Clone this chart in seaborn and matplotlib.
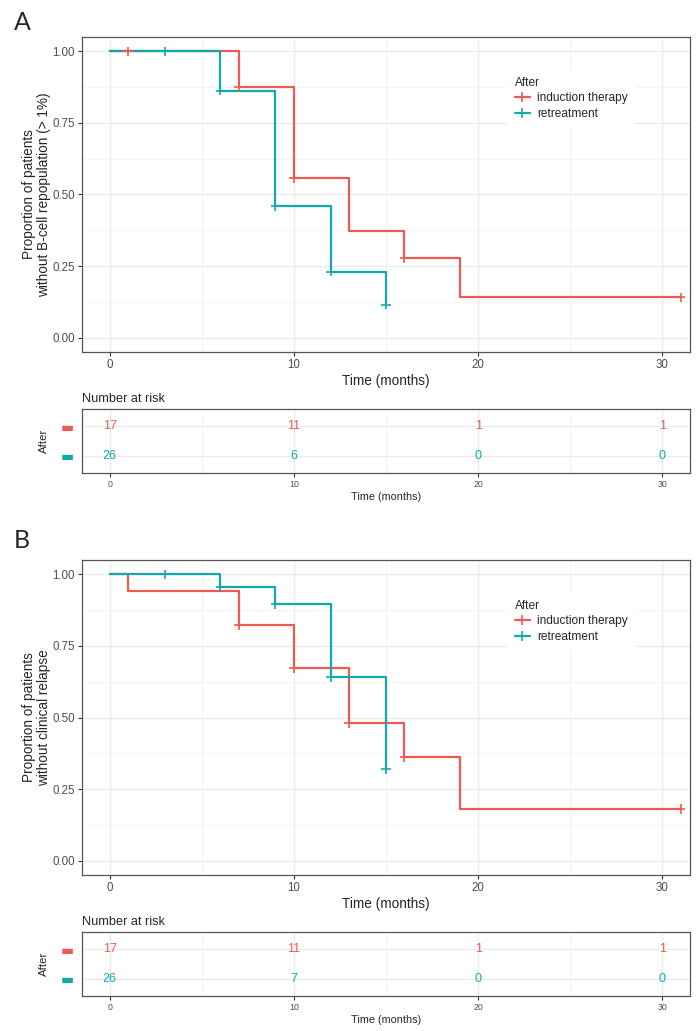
import numpy as np
import pandas as pd
import matplotlib.pyplot as plt
import seaborn as sns
from matplotlib.lines import Line2D
from matplotlib.ticker import MultipleLocator

# Groups and colours
groups = ['induction therapy', 'retreatment']
palette = {'induction therapy': '#EC5A50', 'retreatment': '#13A8AC'}

# Panel A: B-cell repopulation (> 1%)
a_ind_time = [0, 7, 10, 13, 16, 19, 31]
a_ind_surv = [1.0, 0.875, 0.557, 0.372, 0.278, 0.141, 0.141]
a_ind_cens_time = [1, 7, 10, 16, 31]
a_ind_cens_surv = [1.0, 0.875, 0.557, 0.278, 0.141]
a_ret_time = [0, 6, 9, 12, 15]
a_ret_surv = [1.0, 0.863, 0.460, 0.230, 0.115]
a_ret_cens_time = [3, 6, 9, 12, 15]
a_ret_cens_surv = [1.0, 0.863, 0.460, 0.230, 0.115]

# Panel B: clinical relapse
b_ind_time = [0, 1, 7, 10, 13, 16, 19, 31]
b_ind_surv = [1.0, 0.941, 0.823, 0.673, 0.481, 0.361, 0.181, 0.181]
b_ind_cens_time = [7, 10, 13, 16, 31]
b_ind_cens_surv = [0.823, 0.673, 0.481, 0.361, 0.181]
b_ret_time = [0, 6, 9, 12, 15]
b_ret_surv = [1.0, 0.955, 0.895, 0.640, 0.320]
b_ret_cens_time = [3, 6, 9, 12, 15]
b_ret_cens_surv = [1.0, 0.955, 0.895, 0.640, 0.320]

# Number at risk tables
risk_times = [0, 10, 20, 30]
a_risk_ind = [17, 11, 1, 1]
a_risk_ret = [26, 6, 0, 0]
b_risk_ind = [17, 11, 1, 1]
b_risk_ret = [26, 7, 0, 0]

a_ylabel = 'Proportion of patients\nwithout B-cell repopulation (> 1%)'
b_ylabel = 'Proportion of patients\nwithout clinical relapse'

sns.set_style('white')
plt.rcParams['font.family'] = ['Liberation Sans', 'DejaVu Sans']

W, H = 699, 1031
fig = plt.figure(figsize=(W / 100, H / 100), dpi=100)

XLIM = (-1.5, 31.5)
TICK_COL = '#4D4D4D'
BORDER = '#555555'


def px_axes(left, top, right, bottom):
    return fig.add_axes([left / W, 1 - bottom / H, (right - left) / W, (bottom - top) / H])


def style_frame(ax):
    for s in ax.spines.values():
        s.set_visible(True)
        s.set_color(BORDER)
        s.set_linewidth(0.9)


def curve_frame(times, surv, group):
    return pd.DataFrame({'time': times, 'surv': surv, 'group': group})


def draw_main(ax, ind, ret, ylabel):
    curves = pd.concat([curve_frame(ind[0], ind[1], groups[0]),
                        curve_frame(ret[0], ret[1], groups[1])])
    cens = pd.concat([curve_frame(ind[2], ind[3], groups[0]),
                      curve_frame(ret[2], ret[3], groups[1])])

    ax.set_xlim(*XLIM)
    ax.set_ylim(-0.05, 1.05)
    ax.xaxis.set_major_locator(MultipleLocator(10))
    ax.xaxis.set_minor_locator(MultipleLocator(5))
    ax.yaxis.set_major_locator(MultipleLocator(0.25))
    ax.yaxis.set_minor_locator(MultipleLocator(0.125))
    ax.grid(which='major', color='#EBEBEB', linewidth=0.9)
    ax.grid(which='minor', color='#F3F3F3', linewidth=0.6)
    ax.set_axisbelow(True)

    sns.lineplot(data=curves, x='time', y='surv', hue='group', palette=palette,
                 hue_order=groups, drawstyle='steps-post', estimator=None,
                 linewidth=1.6, legend=False, ax=ax)
    sns.scatterplot(data=cens, x='time', y='surv', hue='group', palette=palette,
                    hue_order=groups, marker='+', s=45, linewidth=1.2,
                    legend=False, ax=ax, zorder=4)

    ax.set_yticks([0, 0.25, 0.5, 0.75, 1.0])
    ax.set_yticklabels(['0.00', '0.25', '0.50', '0.75', '1.00'])
    ax.tick_params(axis='both', which='major', length=3, width=0.8, color='#333333',
                   labelsize=8.3, labelcolor=TICK_COL, pad=2, bottom=True, left=True)
    ax.tick_params(which='minor', length=0)
    ax.set_xlabel('Time (months)', fontsize=9.8, labelpad=2)
    ax.set_ylabel(ylabel, fontsize=9.8, labelpad=1, linespacing=1.1)
    style_frame(ax)

    handles = [Line2D([0], [0], color=palette[g], lw=1.6, marker='+', markersize=7,
                      markeredgewidth=1.2) for g in groups]
    leg = ax.legend(handles, groups, title='After', loc='upper left',
                    bbox_to_anchor=(0.69, 0.915), frameon=True, fancybox=False,
                    edgecolor='none', facecolor='white', framealpha=1,
                    fontsize=8.6, title_fontsize=8.6, handlelength=1.3,
                    handletextpad=0.6, labelspacing=0.3, borderpad=0.6)
    leg._legend_box.align = 'left'


def draw_risk(ax, ind_counts, ret_counts):
    risk = pd.DataFrame({
        'time': risk_times * 2,
        'row': [1] * len(risk_times) + [2] * len(risk_times),
        'n': ind_counts + ret_counts,
        'group': [groups[0]] * len(risk_times) + [groups[1]] * len(risk_times),
    })
    ax.set_xlim(*XLIM)
    ax.set_ylim(2.6, 0.4)
    ax.xaxis.set_major_locator(MultipleLocator(10))
    ax.xaxis.set_minor_locator(MultipleLocator(5))
    ax.set_yticks([1, 2])
    ax.grid(which='major', color='#EBEBEB', linewidth=0.9)
    ax.grid(which='minor', axis='x', color='#F3F3F3', linewidth=0.6)
    ax.set_axisbelow(True)
    for _, r in risk.iterrows():
        ax.text(r['time'], r['row'], str(r['n']), color=palette[r['group']],
                ha='center', va='center', fontsize=9)
    ax.set_yticklabels(['▬', '▬'], fontsize=10, family=['DejaVu Sans'])
    for lab, g in zip(ax.get_yticklabels(), groups):
        lab.set_color(palette[g])
    ax.tick_params(axis='y', length=0, pad=6)
    ax.tick_params(axis='x', which='major', length=3, width=0.8, color='#333333',
                   labelsize=6.3, labelcolor=TICK_COL, pad=2, bottom=True)
    ax.tick_params(which='minor', length=0)
    ax.set_xlabel('Time (months)', fontsize=7.8, labelpad=2)
    ax.set_ylabel('After', fontsize=8.2, labelpad=8)
    ax.set_title('Number at risk', loc='left', fontsize=9.2, pad=5)
    style_frame(ax)


ax_a = px_axes(82, 37, 690, 352)
ax_ar = px_axes(82, 409, 690, 473)
ax_b = px_axes(82, 560, 690, 875)
ax_br = px_axes(82, 932, 690, 996)

draw_main(ax_a, (a_ind_time, a_ind_surv, a_ind_cens_time, a_ind_cens_surv),
          (a_ret_time, a_ret_surv, a_ret_cens_time, a_ret_cens_surv), a_ylabel)
draw_risk(ax_ar, a_risk_ind, a_risk_ret)
draw_main(ax_b, (b_ind_time, b_ind_surv, b_ind_cens_time, b_ind_cens_surv),
          (b_ret_time, b_ret_surv, b_ret_cens_time, b_ret_cens_surv), b_ylabel)
draw_risk(ax_br, b_risk_ind, b_risk_ret)

fig.text(22 / W, 1 - 22 / H, 'A', fontsize=18, family=['Lato', 'DejaVu Sans'],
         ha='center', va='center')
fig.text(22 / W, 1 - 540 / H, 'B', fontsize=18, family=['Lato', 'DejaVu Sans'],
         ha='center', va='center')

fig.savefig('out.png', dpi=100, facecolor='white')
